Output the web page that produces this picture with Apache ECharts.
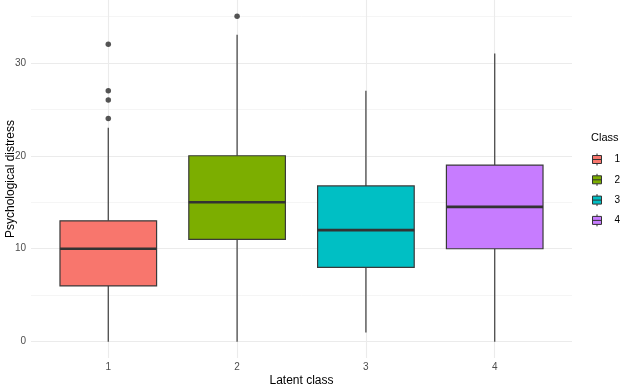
<!DOCTYPE html>
<html>
<head>
<meta charset="utf-8">
<script src="https://cdn.jsdelivr.net/npm/echarts@6/dist/echarts.min.js"></script>
<style>
    html, body { margin: 0; padding: 0; background: #ffffff; }
    #chart-main { width: 621px; height: 385px; }
</style>
</head>
<body>
<div id="chart-main"></div>
<script>
    // data
    const classes = ['1', '2', '3', '4'];
    const lowerWhisker = [0, 0, 1, 0];
    const q1 = [6, 11, 8, 10];
    const median = [10, 15, 12, 14.5];
    const q3 = [13, 20, 16.75, 19];
    const upperWhisker = [23, 33, 27, 31];
    const outlierClass = ['1', '1', '1', '1', '2'];
    const outlierValues = [24, 26, 27, 32, 35];
    const yMajorTicks = [0, 10, 20, 30];
    const yMinorTicks = [5, 15, 25, 35];
    const classColors = ['#F8766D', '#7CAE00', '#00BFC4', '#C77CFF'];

    const fontFamily = 'Liberation Sans, Arial, sans-serif';

    let myChart = echarts.init(document.getElementById('chart-main'));

    // gridlines (theme_minimal look)
    const gridLines = [];
    yMinorTicks.forEach(v => gridLines.push({ yAxis: v, lineStyle: { color: '#F3F3F3', width: 0.8, type: 'solid' } }));
    yMajorTicks.forEach(v => gridLines.push({ yAxis: v, lineStyle: { color: '#EBEBEB', width: 1.1, type: 'solid' } }));
    classes.forEach((c, i) => gridLines.push({ xAxis: i + 1, lineStyle: { color: '#EBEBEB', width: 1.1, type: 'solid' } }));

    function renderBox(params, api) {
        const x = api.value(0);
        const half = api.size([0.75, 0])[0] / 2;
        const pMin = api.coord([x, api.value(1)]);
        const pQ1 = api.coord([x, api.value(2)]);
        const pMed = api.coord([x, api.value(3)]);
        const pQ3 = api.coord([x, api.value(4)]);
        const pMax = api.coord([x, api.value(5)]);
        const fill = api.visual('color');
        return {
            type: 'group',
            children: [
                { type: 'line', shape: { x1: pMin[0], y1: pMin[1], x2: pQ1[0], y2: pQ1[1] },
                  style: { stroke: '#4a4a4a', lineWidth: 1.3 } },
                { type: 'line', shape: { x1: pQ3[0], y1: pQ3[1], x2: pMax[0], y2: pMax[1] },
                  style: { stroke: '#4a4a4a', lineWidth: 1.3 } },
                { type: 'rect', shape: { x: pQ3[0] - half, y: pQ3[1], width: half * 2, height: pQ1[1] - pQ3[1] },
                  style: { fill: fill, stroke: '#3a3a3a', lineWidth: 1.2 } },
                { type: 'line', shape: { x1: pMed[0] - half, y1: pMed[1], x2: pMed[0] + half, y2: pMed[1] },
                  style: { stroke: '#333333', lineWidth: 2.6 } }
            ]
        };
    }

    const boxSeries = classes.map((c, i) => ({
        name: c,
        type: 'custom',
        z: 3,
        color: classColors[i],
        itemStyle: { color: classColors[i], borderColor: '#333333', borderWidth: 1 },
        renderItem: renderBox,
        encode: { x: 0, y: [1, 2, 3, 4, 5] },
        data: [[i + 1, lowerWhisker[i], q1[i], median[i], q3[i], upperWhisker[i]]]
    }));

    const option = {
        animation: false,
        textStyle: { fontFamily: fontFamily },
        title: {
            text: 'Class',
            left: 586,
            top: 127,
            textStyle: { fontSize: 11, fontWeight: 'normal', color: '#000000', fontFamily: fontFamily }
        },
        legend: {
            orient: 'vertical',
            left: 587,
            top: 148,
            itemWidth: 9,
            itemHeight: 12,
            itemGap: 7.3,
            icon: 'path://M0,2H9V10H0Z M4.5,0V2 M4.5,10V12 M0,6H9',
            itemStyle: { borderColor: '#333333', borderWidth: 1 },
            textStyle: { fontSize: 10, color: '#000000', padding: [0, 0, 0, 8], fontFamily: fontFamily },
            data: classes
        },
        grid: { left: 31, right: 49, top: 0, bottom: 27, containLabel: false, outerBoundsMode: 'none' },
        xAxis: {
            type: 'value',
            min: 0.4,
            max: 4.6,
            name: 'Latent class',
            nameLocation: 'middle',
            nameGap: 17,
            nameMoveOverlap: false,
            nameTextStyle: { fontSize: 12, color: '#000000', fontFamily: fontFamily },
            axisLine: { show: false },
            axisTick: { show: false },
            splitLine: { show: false },
            axisLabel: {
                customValues: [1, 2, 3, 4],
                formatter: v => classes[Math.round(v) - 1] || '',
                fontSize: 10,
                color: '#4D4D4D',
                margin: 4
            }
        },
        yAxis: {
            type: 'value',
            min: -1.75,
            max: 36.75,
            name: 'Psychological distress',
            nameLocation: 'middle',
            nameGap: 14,
            nameRotate: 90,
            nameMoveOverlap: false,
            nameTextStyle: { fontSize: 12, color: '#000000', fontFamily: fontFamily },
            axisLine: { show: false },
            axisTick: { show: false },
            splitLine: { show: false },
            axisLabel: {
                customValues: yMajorTicks,
                fontSize: 10,
                color: '#4D4D4D',
                margin: 5
            }
        },
        series: [
            {
                name: 'grid',
                type: 'line',
                z: 0,
                silent: true,
                symbol: 'none',
                lineStyle: { width: 0 },
                data: [[1, 0]],
                markLine: {
                    silent: true,
                    z: 0,
                    symbol: ['none', 'none'],
                    label: { show: false },
                    animation: false,
                    data: gridLines
                }
            },
            ...boxSeries,
            {
                name: 'outliers',
                type: 'scatter',
                z: 4,
                symbol: 'circle',
                symbolSize: 5.5,
                itemStyle: { color: '#2b2b2b' },
                data: outlierValues.map((v, i) => [classes.indexOf(outlierClass[i]) + 1, v])
            }
        ]
    };

    myChart.setOption(option);
</script>
</body>
</html>
